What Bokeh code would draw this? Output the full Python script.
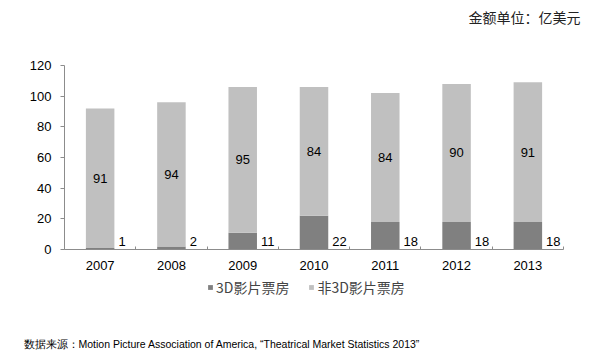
from bokeh.plotting import figure
from bokeh.layouts import column
from bokeh.models import (ColumnDataSource, FixedTicker, Legend, LegendItem,
                          Label, LabelSet, Range1d)
from bokeh.core.properties import value
from bokeh.embed import file_html
from bokeh.resources import INLINE

years = ['2007', '2008', '2009', '2010', '2011', '2012', '2013']
box_3d = [1, 2, 11, 22, 18, 18, 18]
box_non3d = [91, 94, 95, 84, 84, 90, 91]
y_ticks = [0, 20, 40, 60, 80, 100, 120]
series_names = ['3D影片票房', '非3D影片票房']
unit_note = '金额单位：亿美元'
source_note = '数据来源：Motion Picture Association of America, \u201cTheatrical Market Statistics 2013\u201d'

C3D = '#808080'
CNON = '#c0c0c0'
AXC = '#8c8c8c'
NUMFONT = 'Liberation Sans'
CJKFONT = 'Noto Sans CJK SC'

# layout geometry (pixels)
W = 590
MAIN_H = 275
BOT_H = 80
LEFT = 64          # y-axis line
PLOT_R = 563       # end of x-axis
TOP120 = 65        # pixel of y=120
BASE = 249         # pixel of y=0
YMAX = 120
n = len(years)
cat_px = (PLOT_R - LEFT) / n
y_px = (BASE - TOP120) / YMAX
x_end = (W - LEFT) / cat_px
y_end = BASE / y_px


def px_x(px):
    return (px - LEFT) / cat_px


def px_y(py):
    return (BASE - py) / y_px


xs = [i + 0.5 for i in range(n)]
src = ColumnDataSource(dict(
    x=xs,
    xr=[x + 0.2 for x in xs],
    d3=box_3d,
    non3d=box_non3d,
    mid=[a + b / 2 for a, b in zip(box_3d, box_non3d)],
    zero=[0] * n,
    t3=[str(v) for v in box_3d],
    tn=[str(v) for v in box_non3d],
))

p1 = figure(width=W, height=MAIN_H, output_backend='svg', toolbar_location=None,
            x_range=Range1d(0, x_end), y_range=Range1d(0, y_end),
            min_border_left=LEFT, min_border_right=0, min_border_top=0,
            min_border_bottom=MAIN_H - BASE)
p1.outline_line_color = None
p1.grid.visible = False
p1.frame_align = False

rs = p1.vbar_stack(['d3', 'non3d'], x='x', width=0.4, color=[C3D, CNON],
                   line_color=None, source=src)

# x axis
xa = p1.xaxis[0]
xa.bounds = (0, n)
xa.ticker = FixedTicker(ticks=xs, minor_ticks=list(range(n + 1)))
xa.major_label_overrides = {x: y for x, y in zip(xs, years)}
xa.major_tick_out = 0
xa.major_tick_in = 0
xa.minor_tick_in = 3
xa.minor_tick_out = 0
xa.minor_tick_line_color = AXC
xa.axis_line_color = AXC
xa.major_label_standoff = 11
xa.major_label_text_font = NUMFONT
xa.major_label_text_font_size = '13px'
xa.major_label_text_color = 'black'

# y axis
ya = p1.yaxis[0]
ya.bounds = (0, YMAX)
ya.ticker = FixedTicker(ticks=y_ticks)
ya.major_tick_out = 4
ya.major_tick_in = 0
ya.minor_tick_out = 0
ya.minor_tick_in = 0
ya.major_tick_line_color = AXC
ya.axis_line_color = AXC
ya.major_label_standoff = 9
ya.major_label_text_font = NUMFONT
ya.major_label_text_font_size = '13px'
ya.major_label_text_color = 'black'

# data labels
p1.add_layout(LabelSet(x='x', y='mid', text='tn', source=src, text_align='center',
                       text_baseline='middle', text_font=value(NUMFONT),
                       text_font_size=value('13px'), text_color='black'))
p1.add_layout(LabelSet(x='xr', y='zero', text='t3', source=src, text_align='left',
                       text_baseline='alphabetic', x_offset=4, y_offset=4,
                       text_font=value(NUMFONT), text_font_size=value('13px'),
                       text_color='black'))

# unit note (inside the frame, above the bars)
p1.add_layout(Label(x=px_x(580), y=px_y(16), text=unit_note, text_align='right',
                    text_baseline='middle', text_font=CJKFONT,
                    text_font_size='14px', text_color='#222222'))

# bottom strip: legend and source
p2 = figure(width=W, height=BOT_H, output_backend='svg', toolbar_location=None,
            x_range=Range1d(0, W), y_range=Range1d(BOT_H, 0),
            min_border=0, min_border_left=0, min_border_right=0,
            min_border_top=0, min_border_bottom=0,
            x_axis_location=None, y_axis_location=None)
p2.outline_line_color = None
p2.grid.visible = False
p2.frame_align = False
# zero-width bars: only provide the legend swatches
d1 = p2.vbar(x='x', top='d3', width=0, source=src, color=C3D, line_color=None)
d2 = p2.vbar(x='x', top='non3d', width=0, source=src, color=CNON, line_color=None)

legend = Legend(items=[LegendItem(label=series_names[0], renderers=[d1]),
                       LegendItem(label=series_names[1], renderers=[d2])],
                orientation='horizontal', location=(207, BOT_H - 22),
                glyph_width=6, glyph_height=6, label_standoff=3, spacing=19,
                padding=0, margin=0, border_line_color=None,
                background_fill_alpha=0, label_text_font=CJKFONT,
                label_text_font_size='14px', label_height=14)
p2.add_layout(legend, 'center')

p2.add_layout(Label(x=23, y=343 - MAIN_H, text=source_note, text_align='left',
                    text_baseline='middle', text_font=NUMFONT,
                    text_font_size='10.5px', text_color='black'))

p = column(p1, p2, spacing=0)
open('out.html', 'w').write(file_html(p, INLINE))
